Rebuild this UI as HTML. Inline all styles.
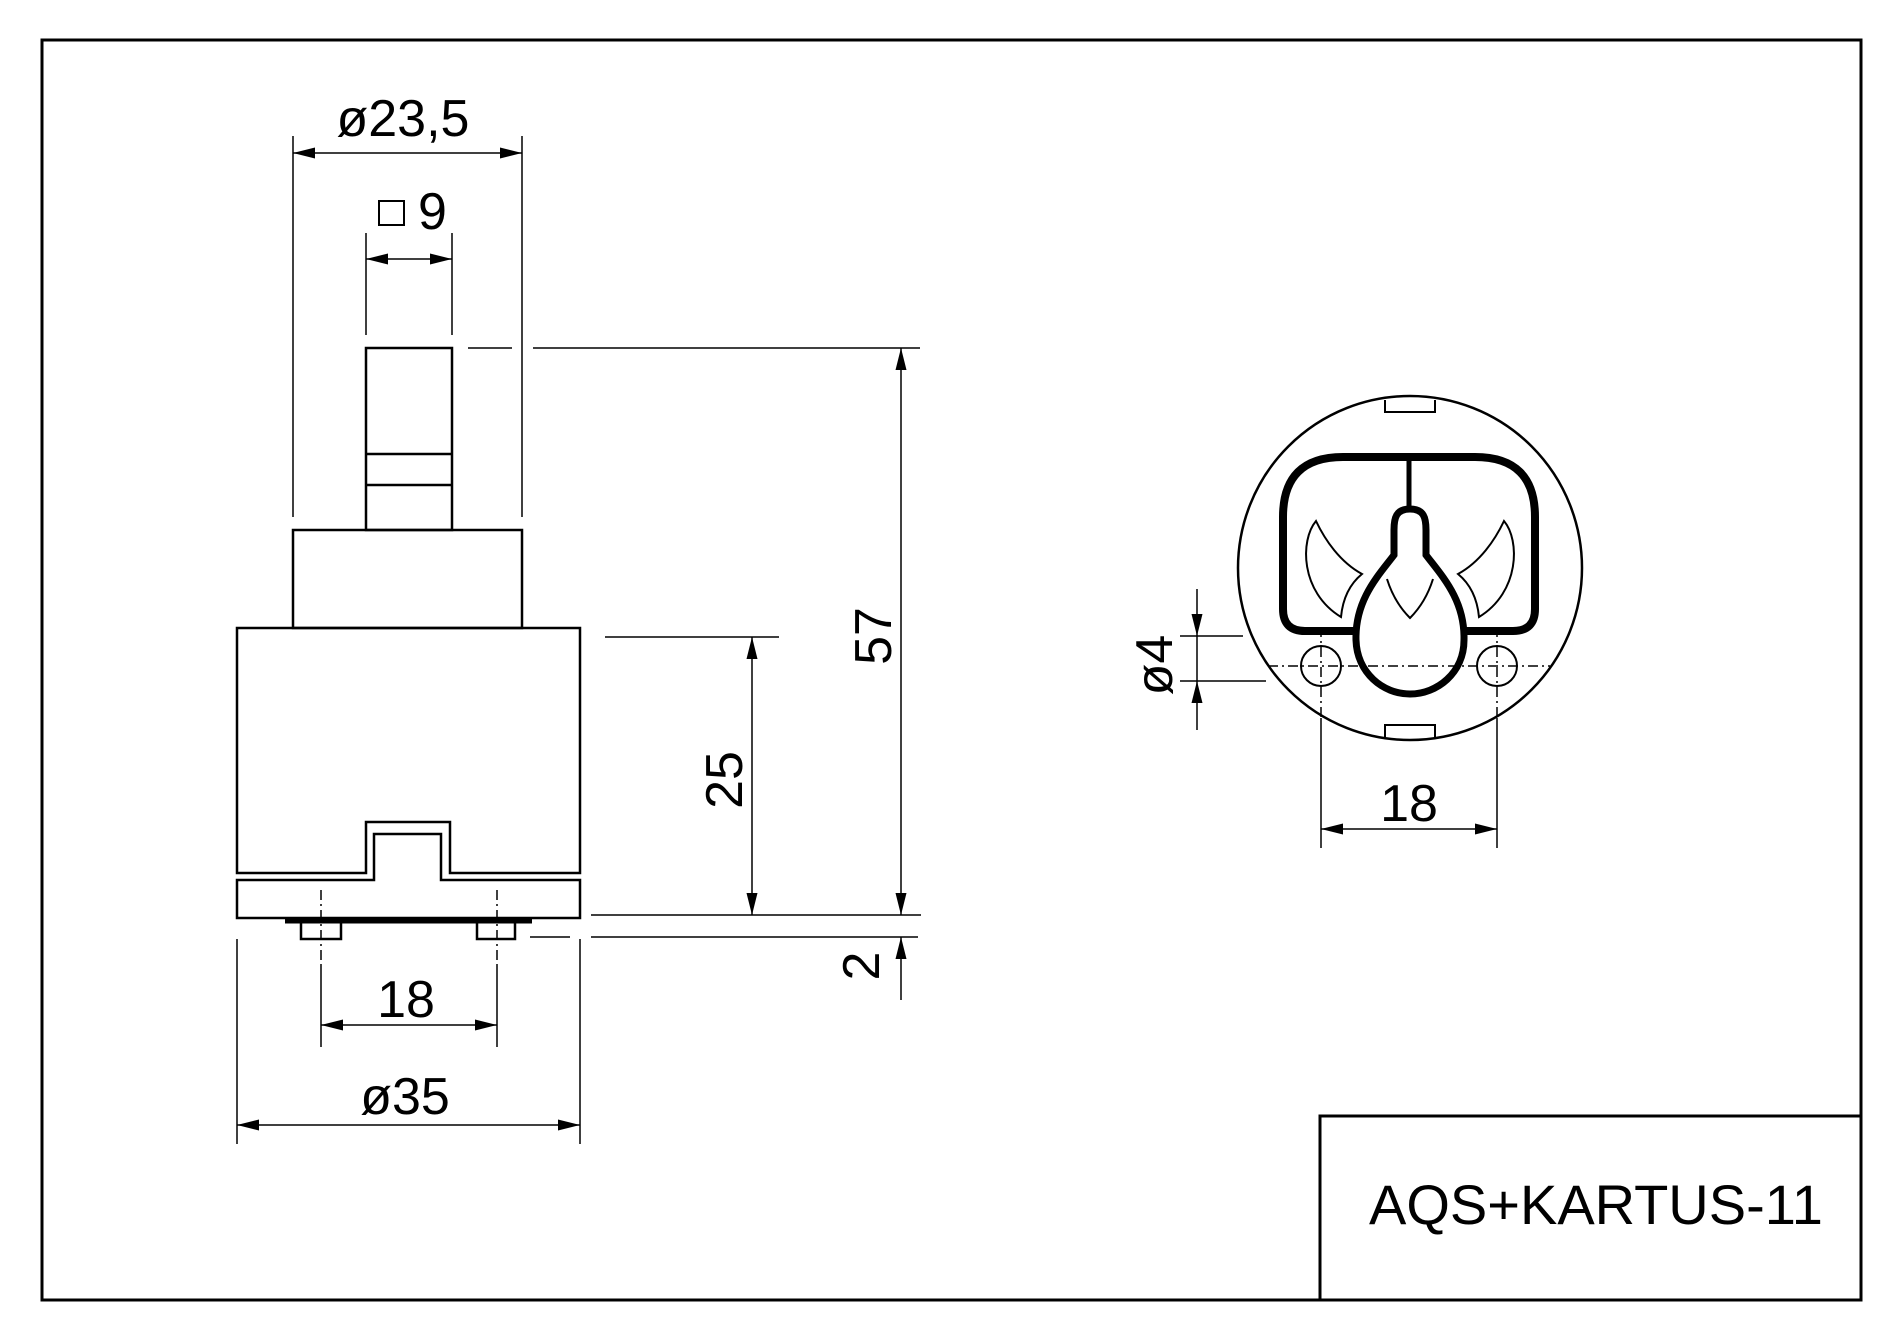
<!DOCTYPE html>
<html><head><meta charset="utf-8"><style>
html,body{margin:0;padding:0;background:#fff;}
svg{display:block;}
text{font-family:"Liberation Sans",Arial,sans-serif;fill:#000;}
</style></head><body>
<svg width="1900" height="1328" viewBox="0 0 1900 1328" xmlns="http://www.w3.org/2000/svg">
<defs>
<marker id="a" viewBox="0 0 22 11" refX="22" refY="5.5" markerWidth="22" markerHeight="11" markerUnits="userSpaceOnUse" orient="auto-start-reverse"><path d="M0,0 L22,5.5 L0,11 z" fill="#000"/></marker>
</defs>
<g fill="none" stroke="#000">
<rect x="42" y="40" width="1819" height="1260" stroke-width="3"/>
<rect x="1320" y="1116" width="541" height="184" stroke-width="3"/>

<g stroke-width="2.5">
<rect x="366" y="348" width="86" height="182"/>
<line x1="366" y1="454" x2="452" y2="454"/>
<line x1="366" y1="485" x2="452" y2="485"/>
<rect x="293" y="530" width="229" height="98"/>
<path d="M237,873 L237,628 L580,628 L580,873 L450,873 L450,822 L366,822 L366,873 Z"/>
<path d="M237,880 L374,880 L374,834 L441,834 L441,880 L580,880 L580,918 L237,918 Z"/>
<rect x="301" y="922" width="40" height="17"/>
<rect x="477" y="922" width="38" height="17"/>
</g>
<line x1="285" y1="921" x2="532" y2="921" stroke-width="5"/>
<g stroke-width="1.5" stroke-dasharray="10,4,2,4">
<line x1="321" y1="890" x2="321" y2="966"/>
<line x1="497" y1="890" x2="497" y2="966"/>
</g>

<g stroke-width="1.5">
<line x1="293" y1="136" x2="293" y2="517"/>
<line x1="522" y1="136" x2="522" y2="517"/>
<line x1="293" y1="153" x2="522" y2="153" marker-start="url(#a)" marker-end="url(#a)"/>
<line x1="366" y1="233" x2="366" y2="335"/>
<line x1="452" y1="233" x2="452" y2="335"/>
<line x1="366" y1="259" x2="452" y2="259" marker-start="url(#a)" marker-end="url(#a)"/>
<line x1="321" y1="966" x2="321" y2="1047"/>
<line x1="497" y1="966" x2="497" y2="1047"/>
<line x1="321" y1="1025" x2="497" y2="1025" marker-start="url(#a)" marker-end="url(#a)"/>
<line x1="237" y1="939" x2="237" y2="1144"/>
<line x1="580" y1="939" x2="580" y2="1144"/>
<line x1="237" y1="1125" x2="580" y2="1125" marker-start="url(#a)" marker-end="url(#a)"/>
<line x1="468" y1="348" x2="512" y2="348"/>
<line x1="533" y1="348" x2="920" y2="348"/>
<line x1="901" y1="348" x2="901" y2="915" marker-start="url(#a)" marker-end="url(#a)"/>
<line x1="605" y1="637" x2="779" y2="637"/>
<line x1="752" y1="637" x2="752" y2="915" marker-start="url(#a)" marker-end="url(#a)"/>
<line x1="591" y1="915" x2="921" y2="915"/>
<line x1="530" y1="937" x2="570" y2="937"/>
<line x1="591" y1="937" x2="918" y2="937"/>
<line x1="901" y1="1000" x2="901" y2="937" marker-end="url(#a)"/>
</g>
<rect x="379" y="201" width="25" height="24" stroke-width="2"/>

<circle cx="1410" cy="568" r="172" stroke-width="2.5"/>
<path d="M1385,400 L1385,412 L1435,412 L1435,400" stroke-width="2" fill="#fff"/>
<path d="M1385,737 L1385,725 L1435,725 L1435,737" stroke-width="2" fill="#fff"/>
<path d="M1355,631 L1305,631 Q1283,631 1283,609 L1283,517 Q1283,457 1343,457 L1475,457 Q1535,457 1535,517 L1535,609 Q1535,631 1513,631 L1465,631" stroke-width="8"/>
<line x1="1409" y1="457" x2="1409" y2="506" stroke-width="5"/>
<path d="M1410,509 C1396,509 1394,518 1394,530 L1394,555 C1378,576 1355,600 1356,640 C1357,673 1383,694 1410,694 C1437,694 1464,673 1464,640 C1465,600 1442,576 1426,555 L1426,530 C1426,518 1424,509 1410,509 Z" stroke-width="7"/>
<g stroke-width="2">
<path d="M1316,521 C1300,540 1300,592 1341,617 C1343,596 1351,583 1362,574 C1340,562 1325,540 1316,521 Z"/>
<path d="M1504,521 C1520,540 1520,592 1479,617 C1477,596 1469,583 1458,574 C1480,562 1495,540 1504,521 Z"/>
<path d="M1387,579 C1392,595 1400,608 1410,618 C1420,608 1428,595 1433,579"/>
<circle cx="1321" cy="666" r="20"/>
<circle cx="1497" cy="666" r="20"/>
</g>
<g stroke-width="1.5" stroke-dasharray="10,4,2,4">
<line x1="1268" y1="666" x2="1550" y2="666"/>
<line x1="1321" y1="627" x2="1321" y2="718"/>
<line x1="1497" y1="627" x2="1497" y2="718"/>
</g>
<g stroke-width="1.5">
<line x1="1321" y1="718" x2="1321" y2="848"/>
<line x1="1497" y1="718" x2="1497" y2="848"/>
<line x1="1321" y1="829" x2="1497" y2="829" marker-start="url(#a)" marker-end="url(#a)"/>
<line x1="1180" y1="636" x2="1243" y2="636"/>
<line x1="1180" y1="681" x2="1266" y2="681"/>
<line x1="1197" y1="589" x2="1197" y2="636" marker-end="url(#a)"/>
<line x1="1197" y1="730" x2="1197" y2="681" marker-end="url(#a)"/>
<line x1="1197" y1="636" x2="1197" y2="681"/>
</g>
</g>

<g font-size="52">
<text x="403" y="136" text-anchor="middle">ø23,5</text>
<text x="418" y="229">9</text>
<text x="406" y="1017" text-anchor="middle">18</text>
<text x="405" y="1114" text-anchor="middle">ø35</text>
<text transform="translate(891,636) rotate(-90)" text-anchor="middle">57</text>
<text transform="translate(742,780) rotate(-90)" text-anchor="middle">25</text>
<text transform="translate(879,966) rotate(-90)" text-anchor="middle">2</text>
<text x="1409" y="821" text-anchor="middle">18</text>
<text transform="translate(1172,665) rotate(-90)" text-anchor="middle">ø4</text>
</g>
<text x="1369" y="1224" font-size="56">AQS+KARTUS-11</text>
</svg>
</body></html>
